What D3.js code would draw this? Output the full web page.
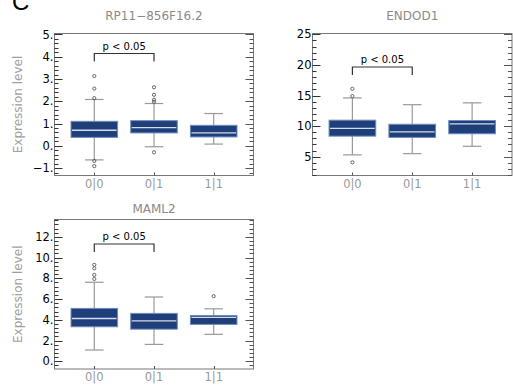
<!DOCTYPE html>
<html><head><meta charset="utf-8">
<script src="https://cdn.jsdelivr.net/npm/d3@7"></script>
<style>body{margin:0;background:#fff}svg{display:block;font-family:"DejaVu Sans",sans-serif}</style>
</head><body><svg id="c" width="513" height="385"></svg>
<script>
const categories = ["0|0", "0|1", "1|1"];
const genes = ["RP11\u2212856F16.2", "ENDOD1", "MAML2"];
// [lower whisker, Q1, median, Q3, upper whisker] per category
const rpStats = [[-0.63, 0.38, 0.70, 1.10, 2.08], [-0.04, 0.58, 0.82, 1.13, 1.90], [0.08, 0.40, 0.58, 0.92, 1.45]];
const rpOutliers = [[3.13, 2.57, 2.14, -0.68, -0.91], [2.63, 2.29, 2.07, 1.98, -0.29], []];
const endStats = [[5.3, 8.36, 9.62, 10.97, 14.6], [5.5, 8.15, 9.07, 10.3, 13.5], [6.7, 8.75, 10.38, 10.92, 13.8]];
const endOutliers = [[16.1, 14.9, 4.08], [], []];
const mamStats = [[1.09, 3.33, 4.13, 5.1, 7.62], [1.63, 3.1, 3.9, 4.62, 6.2], [2.6, 3.56, 4.23, 4.42, 5.06]];
const mamOutliers = [[9.3, 8.96, 8.33, 7.94], [], [6.28]];
const rpTicks = [-1, 0, 1, 2, 3, 4, 5];
const endTicks = [5, 10, 15, 20, 25];
const mamTicks = [0, 2, 4, 6, 8, 10, 12];
const pLabel = "p < 0.05";

const panels = [
  {gene: genes[0], stats: rpStats, out: rpOutliers, ticks: rpTicks, minor: 0.2, dom: [-1.33, 5.04], fmt: d => (d < 0 ? "\u2212" + (-d) : d) + ".",
   x0: 54.5, x1: 253.5, y0: 33.5, y1: 175.5, ylab: true, br: 53.5, ty: 19.5},
  {gene: genes[1], stats: endStats, out: endOutliers, ticks: endTicks, minor: 1, dom: [1.93, 25.13], fmt: d => String(d),
   x0: 312.5, x1: 512, y0: 33.5, y1: 175.5, ylab: false, br: 67, ty: 20},
  {gene: genes[2], stats: mamStats, out: mamOutliers, ticks: mamTicks, minor: 0.4, dom: [-0.74, 13.67], fmt: d => d + ".",
   x0: 54.5, x1: 253.5, y0: 219.5, y1: 369, ylab: true, br: 244, ty: 213}
];

const svg = d3.select("#c");
svg.append("text").attr("x", 12).attr("y", 10).attr("font-size", 24).attr("fill", "#000")
  .attr("font-family", "Liberation Sans, sans-serif").text("C");

panels.forEach(p => {
  const g = svg.append("g");
  const x = d3.scaleLinear().domain([1/3, 11/3]).range([p.x0, p.x1]);
  const y = d3.scaleLinear().domain(p.dom).range([p.y1, p.y0]);
  const unit = x(2) - x(1);
  g.append("rect").attr("x", p.x0).attr("y", p.y0).attr("width", p.x1 - p.x0).attr("height", p.y1 - p.y0)
    .attr("fill", "none").attr("stroke", "#777").attr("stroke-width", 1);
  const minorVals = d3.range(Math.ceil(p.dom[0] / p.minor) * p.minor, p.dom[1] + 1e-9, p.minor)
    .map(v => Math.round(v * 1000) / 1000);
  minorVals.forEach(v => {
    const isMajor = p.ticks.some(t => Math.abs(t - v) < 1e-6);
    const len = isMajor ? 8 : 4;
    const yy = Math.round(y(v)) + 0.5;
    g.append("line").attr("x1", p.x0).attr("x2", p.x0 + len).attr("y1", yy).attr("y2", yy).attr("stroke", "#333").attr("stroke-width", 1);
    g.append("line").attr("x1", p.x1).attr("x2", p.x1 - len).attr("y1", yy).attr("y2", yy).attr("stroke", "#555").attr("stroke-width", 1);
  });
  p.ticks.forEach(t => {
    g.append("text").attr("x", p.x0 - 1).attr("y", y(t)).attr("dy", "0.36em").attr("text-anchor", "end")
      .attr("font-size", 11.5).attr("fill", "#000").text(p.fmt(t));
  });
  categories.forEach((c, i) => {
    const xx = Math.round(x(i + 1)) + 0.5;
    g.append("line").attr("x1", xx).attr("x2", xx).attr("y1", p.y1).attr("y2", p.y1 - 3).attr("stroke", "#555");
    g.append("text").attr("x", x(i + 1)).attr("y", p.y1 + 12).attr("text-anchor", "middle")
      .attr("font-size", 11.5).attr("fill", "#999").text(c);
  });
  g.append("text").attr("x", (p.x0 + p.x1) / 2).attr("y", p.ty).attr("text-anchor", "middle")
    .attr("font-size", 12).attr("fill", "#8a8a8a").text(p.gene);
  if (p.ylab) {
    g.append("text").attr("transform", `translate(22,${(p.y0 + p.y1) / 2}) rotate(-90)`).attr("text-anchor", "middle")
      .attr("font-size", 12).attr("fill", "#a0a0a0").text("Expression level");
  }
  p.stats.forEach((s, i) => {
    const cx = x(i + 1);
    const bw = 0.78 * unit, cw = 0.31 * unit;
    g.append("line").attr("x1", cx).attr("x2", cx).attr("y1", y(s[0])).attr("y2", y(s[4])).attr("stroke", "#999").attr("stroke-width", 1.2);
    [s[0], s[4]].forEach(v => g.append("line").attr("x1", cx - cw / 2).attr("x2", cx + cw / 2).attr("y1", y(v)).attr("y2", y(v))
      .attr("stroke", "#999").attr("stroke-width", 1.2));
    g.append("rect").attr("x", cx - bw / 2).attr("y", y(s[3])).attr("width", bw).attr("height", y(s[1]) - y(s[3]))
      .attr("fill", "#1f3f7a").attr("stroke", "#6d8cc0").attr("stroke-width", 1);
    g.append("line").attr("x1", cx - bw / 2 + 1).attr("x2", cx + bw / 2 - 1).attr("y1", y(s[2])).attr("y2", y(s[2]))
      .attr("stroke", "#d4dceb").attr("stroke-width", 1.3);
    p.out[i].forEach(v => g.append("circle").attr("cx", cx).attr("cy", y(v)).attr("r", 1.6)
      .attr("fill", "none").attr("stroke", "#444").attr("stroke-width", 0.8));
  });
  const bx1 = x(1), bx2 = x(2), by = p.br;
  g.append("path").attr("d", `M${bx1},${by + 8}V${by}H${bx2}V${by + 8}`).attr("fill", "none").attr("stroke", "#333").attr("stroke-width", 1.2);
  g.append("text").attr("x", (bx1 + bx2) / 2).attr("y", by - 4).attr("text-anchor", "middle").attr("font-size", 10)
    .attr("fill", "#000").text(pLabel);
});
</script></body></html>
